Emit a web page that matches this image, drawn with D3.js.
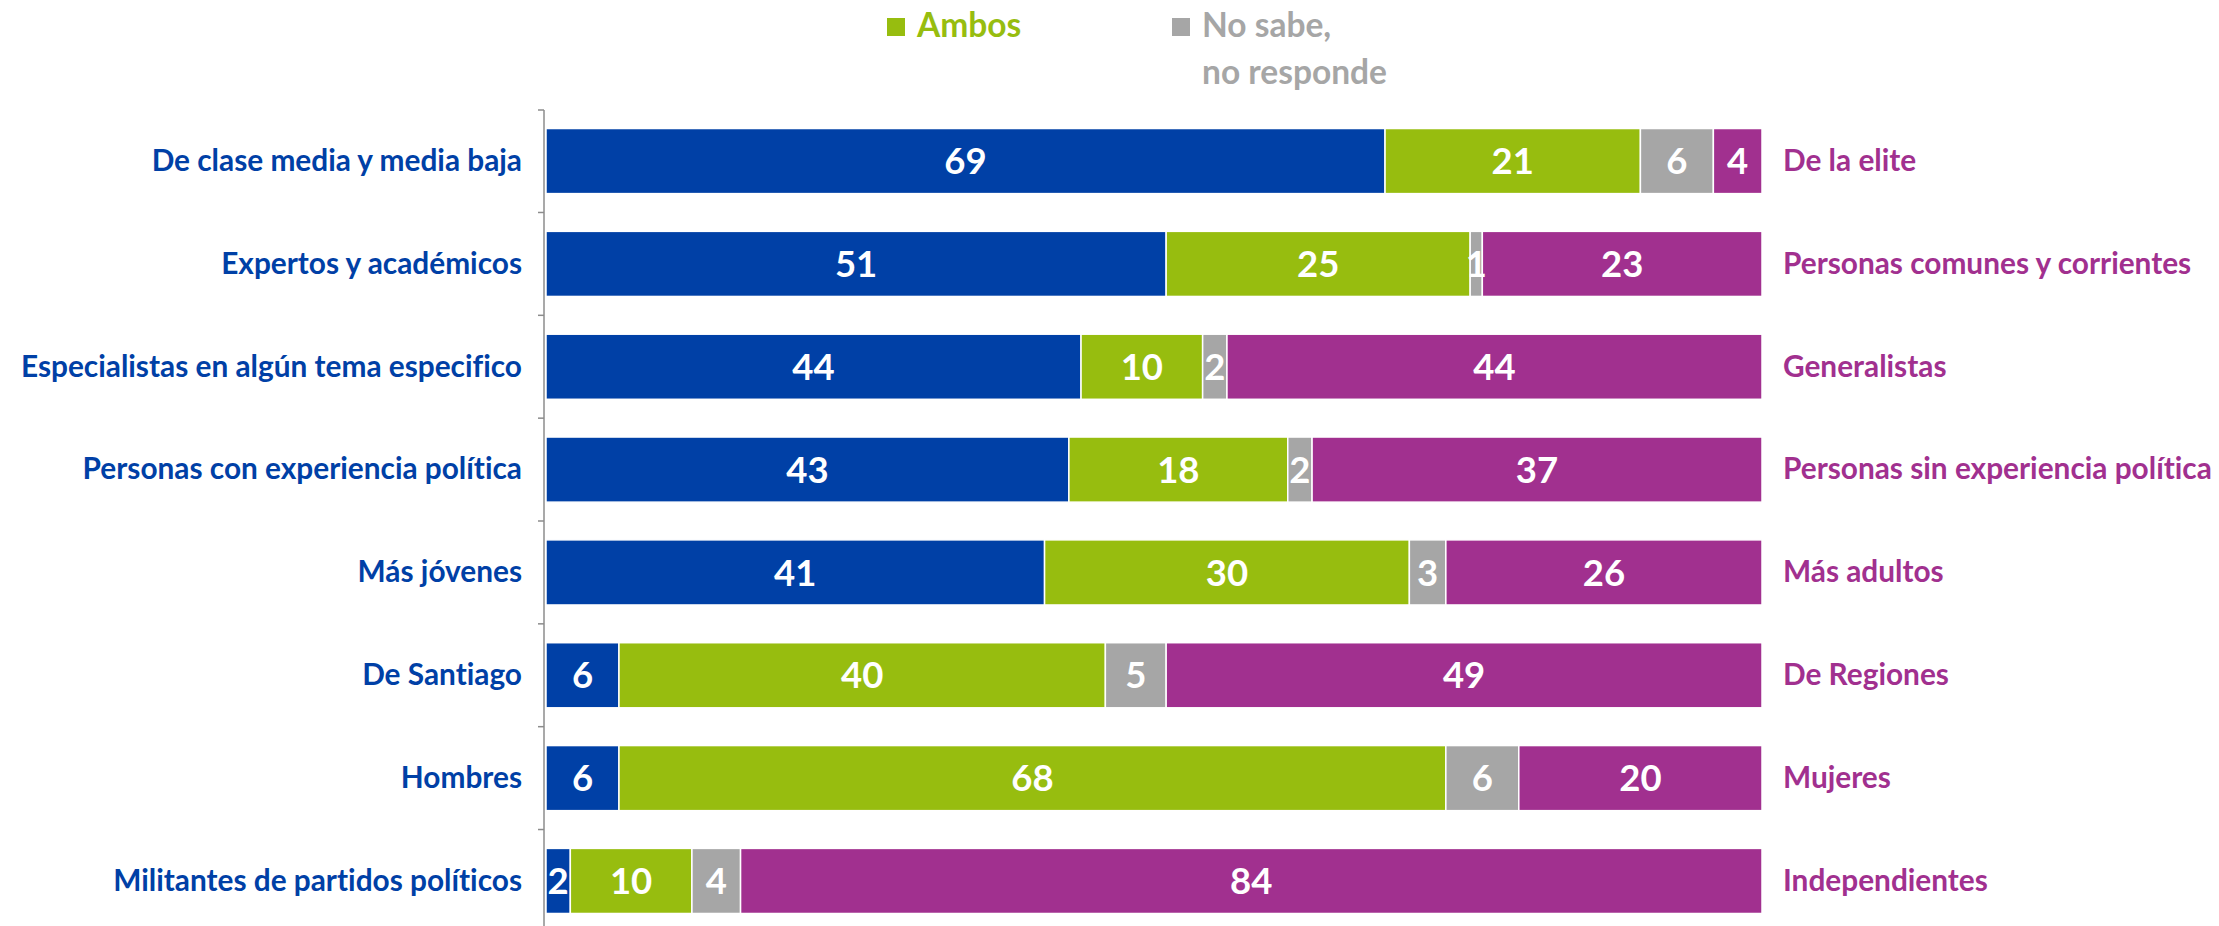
<!DOCTYPE html>
<html><head><meta charset="utf-8">
<script src="https://cdn.jsdelivr.net/npm/d3@7/dist/d3.min.js"></script>
<style>html,body{margin:0;padding:0;background:#fff;overflow:hidden} text{font-variant-ligatures:none;font-feature-settings:"liga" 0,"clig" 0}</style>
</head><body>
<svg id="chart" width="2219" height="926"></svg>
<script>
const leftLabels = ["De clase media y media baja","Expertos y académicos","Especialistas en algún tema especifico","Personas con experiencia política","Más jóvenes","De Santiago","Hombres","Militantes de partidos políticos"];
const rightLabels = ["De la elite","Personas comunes y corrientes","Generalistas","Personas sin experiencia política","Más adultos","De Regiones","Mujeres","Independientes"];
const seriesNames = ["Izquierda","Ambos","No sabe, no responde","Derecha"];
const leftValues  = [69,51,44,43,41,6,6,2];
const ambosValues = [21,25,10,18,30,40,68,10];
const nsnrValues  = [6,1,2,2,3,5,6,4];
const rightValues = [4,23,44,37,26,49,20,84];
const colors = ["#0040A6","#97BD0F","#A6A6A6","#A1308F"];
const legendItems = [{name:"Ambos", lines:["Ambos"], ci:1},{name:"No sabe, no responde", lines:["No sabe,","no responde"], ci:2}];

const svg = d3.select("#chart");
const font = "Lato, 'Open Sans', sans-serif";

const x = d3.scaleLinear().domain([0,100]).range([546,1762]);
const y = d3.scaleBand().domain(leftLabels).range([110,932]).paddingInner(0.367).paddingOuter(0.18);

const rows = leftLabels.map((c,i)=>({cat:c, right:rightLabels[i], vals:[leftValues[i],ambosValues[i],nsnrValues[i],rightValues[i]]}));

// axis line + ticks at band boundaries
const axisG = svg.append("g");
axisG.append("line").attr("x1",544).attr("x2",544).attr("y1",y.range()[0]).attr("y2",y.range()[1])
  .attr("stroke","#8c8c8c").attr("stroke-width",1.5);
const boundaries = leftLabels.map(c=>y(c) - y.step()*y.paddingInner()/2);
boundaries[0] = y.range()[0];
axisG.selectAll("line.tick").data(boundaries).enter().append("line").attr("class","tick")
  .attr("x1",538).attr("x2",544).attr("y1",d=>d).attr("y2",d=>d)
  .attr("stroke","#8c8c8c").attr("stroke-width",1.5);

// bars
const rowG = svg.selectAll("g.row").data(rows).enter().append("g").attr("class","row");
rowG.each(function(r){
  const g = d3.select(this);
  let acc = 0;
  const segs = r.vals.map((v,k)=>{const s={v,k,x0:acc,x1:acc+v}; acc+=v; return s;});
  g.selectAll("rect").data(segs).enter().append("rect")
    .attr("x",d=>x(d.x0)).attr("width",d=>x(d.x1)-x(d.x0))
    .attr("y",y(r.cat)).attr("height",y.bandwidth())
    .attr("fill",d=>colors[d.k]).attr("stroke","#fff").attr("stroke-width",1.5);
  g.selectAll("text.val").data(segs).enter().append("text").attr("class","val")
    .attr("x",d=>(x(d.x0)+x(d.x1))/2).attr("y",y(r.cat)+y.bandwidth()/2)
    .attr("dy","0.36em").attr("text-anchor","middle")
    .attr("font-family",font).attr("font-weight",700).attr("font-size",36.5)
    .attr("fill","#fff").text(d=>d.v);
});

// left labels
svg.selectAll("text.left").data(rows).enter().append("text").attr("class","left")
  .attr("x",522).attr("y",d=>y(d.cat)+y.bandwidth()/2).attr("dy","0.33em")
  .attr("text-anchor","end").attr("font-family",font).attr("font-weight",700).attr("font-size",29.8)
  .attr("fill",colors[0]).text(d=>d.cat);
// right labels
svg.selectAll("text.right").data(rows).enter().append("text").attr("class","right")
  .attr("x",1783).attr("y",d=>y(d.cat)+y.bandwidth()/2).attr("dy","0.33em")
  .attr("text-anchor","start").attr("font-family",font).attr("font-weight",700).attr("font-size",29.8)
  .attr("fill",colors[3]).text(d=>d.right);

// legend
const legX = [887,1172];
const lg = svg.selectAll("g.leg").data(legendItems).enter().append("g").attr("class","leg")
  .attr("transform",(d,i)=>`translate(${legX[i]},0)`);
lg.append("rect").attr("x",0).attr("y",18).attr("width",18).attr("height",18).attr("fill",d=>colors[d.ci]);
lg.each(function(d){
  const t = d3.select(this).append("text").attr("font-family",font).attr("font-weight",700)
    .attr("font-size",33.5).attr("fill",colors[d.ci]);
  d.lines.forEach((l,j)=>t.append("tspan").attr("x",30).attr("y",37+j*47).text(l));
});
</script>
</body></html>
